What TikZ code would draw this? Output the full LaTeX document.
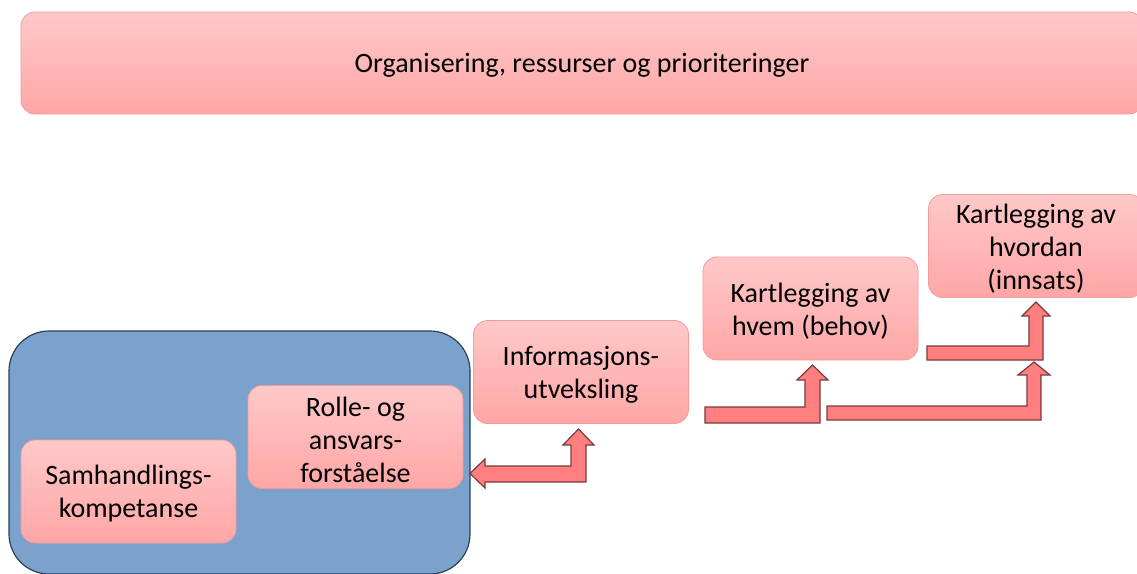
\documentclass[tikz,border=0pt]{standalone}
\usepackage{fontspec}
\setmainfont{Carlito}
\definecolor{pinktop}{HTML}{FFC8C8}
\definecolor{pinkbot}{HTML}{FFA6A6}
\definecolor{boxedge}{HTML}{F59A9A}
\definecolor{bluefill}{HTML}{7AA2CC}
\definecolor{blueedge}{HTML}{2E3F58}
\definecolor{arrowfill}{HTML}{FF7F80}
\definecolor{arrowedge}{HTML}{7A3A3A}
\begin{document}
\begin{tikzpicture}[x=1pt,y=-1pt,
  pinkbox/.style={rounded corners=14pt, draw=boxedge, line width=0.8pt,
    top color=pinktop, bottom color=pinkbot, minimum width=215pt,
    minimum height=103pt, inner sep=0pt},
  boxtext/.style={align=center, inner sep=0pt, yshift=-2.5pt,
    font=\fontsize{28}{33}\selectfont},
  blockarrow/.style={fill=arrowfill, draw=arrowedge, line width=1.2pt, line join=miter},
  container/.style={fill=bluefill, draw=blueedge, line width=1.2pt, rounded corners=40pt}]
\clip (0,0) rectangle (1137,573);
% top bar
\node[pinkbox, minimum width=1122pt, minimum height=102pt] (org) at (582,63) {};
\node[boxtext] (orgt) at (org) {Organisering, ressurser og prioriteringer};
% blue container
\draw[container] (9,331) rectangle (470,574);
% boxes
\node[pinkbox] (samh) at (128.5,491.5) {};
\node[boxtext] (samht) at (samh) {Samhandlings-\\kompetanse};
\node[pinkbox] (rolle) at (355.5,437) {};
\node[boxtext] (rollet) at (rolle) {Rolle- og\\ansvars-\\forståelse};
\node[pinkbox] (info) at (581,372) {};
\node[boxtext] (infot) at (info) {Informasjons-\\utveksling};
\node[pinkbox] (hvem) at (810.5,308.5) {};
\node[boxtext] (hvemt) at (hvem) {Kartlegging av\\hvem (behov)};
\node[pinkbox] (hvordan) at (1036,246) {};
\node[boxtext] (hvordant) at (hvordan) {Kartlegging av\\hvordan\\(innsats)};
% block arrows
\draw[blockarrow] (470,473.5) -- (485,459) -- (485,466) -- (571,466) -- (571,445)
  -- (563,445) -- (578.5,429) -- (594,445) -- (586,445) -- (586,482) -- (485,482)
  -- (485,488) -- cycle;
\draw[blockarrow] (705,407) -- (805,407) -- (805,380) -- (797,380) -- (812.5,365)
  -- (828,380) -- (820,380) -- (820,423) -- (705,423) -- cycle;
\draw[blockarrow] (827,406) -- (1027,406) -- (1027,375) -- (1018,375) -- (1034,362)
  -- (1050,375) -- (1041,375) -- (1041,420) -- (827,420) -- cycle;
\draw[blockarrow] (927,346) -- (1029,346) -- (1029,316) -- (1022,316) -- (1036,302)
  -- (1050,316) -- (1043,316) -- (1043,360) -- (927,360) -- cycle;
\end{tikzpicture}
\end{document}
